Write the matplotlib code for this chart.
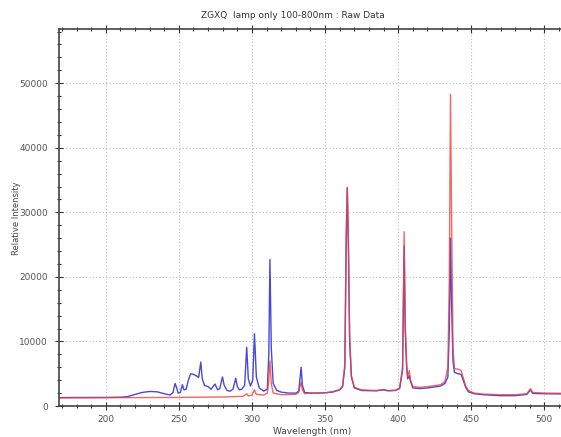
import matplotlib
matplotlib.use("Agg")
import matplotlib.pyplot as plt
from matplotlib.ticker import MultipleLocator

# spectrum 1 (blue) - wavelength (nm), relative intensity
blue_nm = [168, 180, 200, 210, 215, 220, 225, 230, 235, 240, 244, 246, 247.4, 248.5,
           249.5, 251, 252.4, 253.5, 255, 256.5, 258, 260, 262.5, 263.5, 265, 266,
           267.5, 270, 272, 274.7, 276.5, 278, 279.8, 281, 283, 285, 287, 288.9, 290,
           291.5, 293, 295, 296.4, 297.5, 299, 300.5, 301.7, 303, 305, 308, 310.5,
           311.5, 312.3, 313.2, 314.5, 317, 320, 325, 330, 332, 333.6, 334.5, 336,
           340, 345, 350, 355, 360, 362, 363.5, 364.5, 365.2, 366, 366.8, 368, 370,
           375, 385, 390, 393, 398, 401, 403, 404.1, 404.8, 405.8, 406.5, 407.6,
           408.5, 410, 415, 420, 425, 429, 432, 434, 435, 435.8, 436.5, 437.5, 438.5,
           441, 443, 444.5, 446, 448, 452, 458, 470, 480, 488, 490.5, 492, 500, 520]
blue_val = [1300, 1320, 1330, 1360, 1450, 1800, 2100, 2250, 2200, 1900, 1700, 2100, 3500, 2800,
            2000, 2100, 3300, 2500, 2600, 4000, 5000, 4900, 4600, 4400, 6800, 4200,
            3200, 3000, 2600, 3400, 2500, 2700, 4500, 3200, 2400, 2300, 2600, 4300, 3000,
            2500, 2600, 3200, 9100, 4200, 3100, 4000, 11200, 4500, 2800, 2300, 2600,
            8000, 22700, 9000, 3500, 2400, 2150, 2000, 2000, 2300, 6000, 3200, 2100,
            2000, 2000, 2050, 2150, 2500, 3000, 6000, 26000, 33800, 24000, 10000, 4500, 2800,
            2400, 2350, 2500, 2350, 2400, 2700, 5500, 24800, 12000, 6000, 4200, 4700,
            3800, 2800, 2700, 2800, 2950, 3100, 3500, 4500, 12000, 26000, 16000, 7000, 5200,
            5000, 4900, 4000, 3000, 2200, 1900, 1750, 1600, 1600, 1800, 2500, 1950, 1900, 1850]

# spectrum 2 (red)
red_nm = [168, 200, 250, 280, 294, 296.4, 297.5, 300, 301.7, 303, 308, 310.5, 311.5,
          312.3, 313.2, 314.5, 320, 330, 332, 333.6, 334.5, 336, 340, 350, 355, 360,
          362, 363.5, 364.5, 365.2, 366, 366.8, 368, 370, 375, 385, 390, 393, 398,
          401, 403, 404.1, 404.8, 405.8, 406.5, 407.6, 408.5, 410, 415, 420, 425, 429,
          432, 434, 435, 435.8, 436.5, 437.5, 438.5, 441, 443, 444.5, 446, 448, 452,
          458, 470, 480, 488, 490.5, 492, 500, 520]
red_val = [1250, 1280, 1330, 1400, 1500, 1900, 1550, 1700, 2500, 1800, 1700, 2000, 4000,
           7000, 3500, 2000, 1750, 1800, 2100, 3700, 2500, 1900, 2000, 2050, 2200, 2550,
           3100, 6500, 27000, 33900, 25000, 11000, 4700, 2900, 2500, 2400, 2550, 2400, 2450,
           2800, 6000, 27000, 13000, 6500, 4500, 5500, 4000, 3000, 2900, 3000, 3150, 3300,
           3800, 6000, 20000, 48300, 30000, 9000, 5800, 5700, 5500, 4400, 3200, 2400, 2000,
           1850, 1750, 1750, 1900, 2700, 2100, 2000, 1950]

fig = plt.figure(figsize=(5.61, 4.37), dpi=100)
ax = fig.add_axes([59/561, 31/437, 514.6/561, 377/437])

ax.plot(blue_nm, blue_val, color='#4848d8', lw=1.0)
ax.plot(red_nm, red_val, color='#ee4040', lw=1.0, alpha=0.8)

ax.set_xlim(168, 520)
ax.set_ylim(0, 58400)
ax.xaxis.set_major_locator(MultipleLocator(50))
ax.xaxis.set_minor_locator(MultipleLocator(10))
ax.yaxis.set_major_locator(MultipleLocator(10000))
ax.yaxis.set_minor_locator(MultipleLocator(2000))
ax.tick_params(which='both', direction='inout', top=True, colors='#333333',
               labelsize=6.5, labelcolor='#555555', width=0.8)
ax.tick_params(which='major', length=6)
ax.tick_params(which='minor', length=3.5)
ax.tick_params(axis='x', pad=3.5)
ax.tick_params(axis='y', pad=5)
ax.grid(True, which='major', color='#bbbbbb', lw=0.8, ls=(0, (1, 2)))
for s in ['left', 'bottom', 'top']:
    ax.spines[s].set_color('#444444')
    ax.spines[s].set_linewidth(1.2)
ax.spines['right'].set_visible(False)

fig.text(293/561, 1 - 16/437, 'ZGXQ  lamp only 100-800nm : Raw Data',
         ha='center', va='center', fontsize=6.5, color='#333333')
fig.text(312/561, 1 - 432/437, 'Wavelength (nm)', ha='center', va='center',
         fontsize=6.5, color='#444444')
fig.text(17/561, 1 - 218/437, 'Relative Intensity', ha='center', va='center',
         rotation=90, fontsize=6, color='#444444')

fig.savefig('out.png', dpi=100)
